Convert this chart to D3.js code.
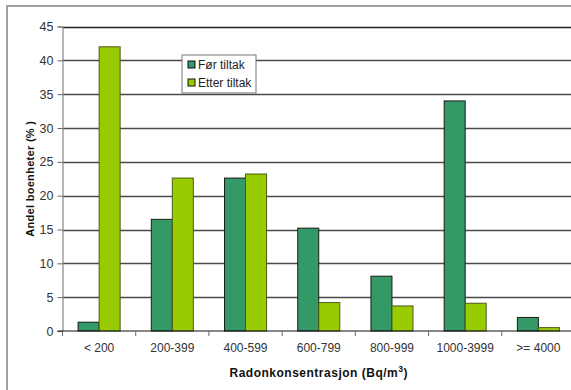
<!DOCTYPE html>
<html>
<head>
<meta charset="utf-8">
<script src="https://cdn.jsdelivr.net/npm/d3@7"></script>
<style>
  html, body { margin: 0; padding: 0; background: #fff; }
  svg { display: block; font-family: Arial, "Liberation Sans", sans-serif; }
</style>
</head>
<body>
<svg id="chart" width="571" height="390"></svg>
<script>
// Radon concentration intervals (Bq/m3)
const categories = ["< 200", "200-399", "400-599", "600-799", "800-999", "1000-3999", ">= 4000"];
// Share of dwellings (%) before and after mitigation
const forTiltak   = [1.3, 16.5, 22.6, 15.2, 8.1, 34.0, 2.0];
const etterTiltak = [42.0, 22.6, 23.2, 4.2, 3.7, 4.1, 0.5];
const seriesNames = ["Før tiltak", "Etter tiltak"];
const yTicks = [0, 5, 10, 15, 20, 25, 30, 35, 40, 45];

const colors = ["#339966", "#99cc00"];
const strokes = ["#1a1a1a", "#4d5a1a"];

const svg = d3.select("#chart");
const W = 571, H = 390;

// outer chart frame
svg.append("rect")
  .attr("x", 7).attr("y", 6)
  .attr("width", W + 20).attr("height", H + 20)
  .attr("fill", "none").attr("stroke", "#a0a0a0").attr("stroke-width", 2);

const plot = { left: 62.5, right: 575, top: 26.5, bottom: 331 };

const x0 = d3.scaleBand()
  .domain(categories)
  .range([plot.left, plot.right])
  .paddingInner(0.426)
  .paddingOuter(0.213);

const x1 = d3.scaleBand()
  .domain(seriesNames)
  .range([0, x0.bandwidth()]);

const y = d3.scaleLinear().domain([0, 45]).range([plot.bottom, plot.top]);

// horizontal gridlines
svg.append("g")
  .selectAll("line")
  .data(yTicks.filter(d => d > 0))
  .join("line")
  .attr("x1", plot.left).attr("x2", plot.right)
  .attr("y1", d => Math.round(y(d)) + 0.5).attr("y2", d => Math.round(y(d)) + 0.5)
  .attr("stroke", d => d === 45 ? "#222" : "#4a4a4a")
  .attr("stroke-width", 1.3);

// bars
const data = categories.map((c, i) => ({ cat: c, vals: [forTiltak[i], etterTiltak[i]] }));
const groups = svg.append("g")
  .selectAll("g")
  .data(data)
  .join("g")
  .attr("transform", d => `translate(${x0(d.cat)},0)`);

groups.selectAll("rect")
  .data(d => d.vals.map((v, j) => ({ v, j })))
  .join("rect")
  .attr("x", d => x1(seriesNames[d.j]))
  .attr("y", d => y(d.v))
  .attr("width", x1.bandwidth())
  .attr("height", d => y(0) - y(d.v))
  .attr("fill", d => colors[d.j])
  .attr("stroke", d => strokes[d.j])
  .attr("stroke-width", 1);

// y axis
const yAxis = d3.axisLeft(y).tickValues(yTicks).tickSize(5).tickPadding(4);
const gy = svg.append("g").attr("transform", `translate(${plot.left},0)`).call(yAxis);
gy.select(".domain").attr("stroke", "#888").attr("stroke-width", 1.2);
gy.selectAll(".tick line").attr("stroke", "#666");
gy.selectAll(".tick text").attr("fill", "#333").attr("font-size", 12.5)
  .attr("font-family", "Arial, 'Liberation Sans', sans-serif");

// x axis baseline with ticks at category boundaries
svg.append("line")
  .attr("x1", plot.left - 5).attr("x2", plot.right)
  .attr("y1", plot.bottom).attr("y2", plot.bottom)
  .attr("stroke", "#111").attr("stroke-width", 1.2);

const step = x0.step();
svg.append("g")
  .selectAll("line")
  .data(d3.range(categories.length + 1))
  .join("line")
  .attr("x1", i => plot.left + i * step).attr("x2", i => plot.left + i * step)
  .attr("y1", plot.bottom).attr("y2", plot.bottom + 5)
  .attr("stroke", "#666").attr("stroke-width", 1);

svg.append("g")
  .selectAll("text")
  .data(categories)
  .join("text")
  .attr("x", d => x0(d) + x0.bandwidth() / 2)
  .attr("y", 352)
  .attr("text-anchor", "middle")
  .attr("font-size", 12)
  .attr("fill", "#333")
  .text(d => d);

// axis titles
const xt = svg.append("text")
  .attr("x", (plot.left + plot.right) / 2)
  .attr("y", 377)
  .attr("text-anchor", "middle")
  .attr("font-size", 12)
  .attr("font-weight", "bold")
  .attr("letter-spacing", 0.5)
  .attr("fill", "#111");
xt.append("tspan").text("Radonkonsentrasjon (Bq/m");
xt.append("tspan").attr("font-size", 8.5).attr("dy", -5).text("3");
xt.append("tspan").attr("dy", 5).text(")");

svg.append("text")
  .attr("transform", `translate(34,${(plot.top + plot.bottom) / 2}) rotate(-90)`)
  .attr("text-anchor", "middle")
  .attr("font-size", 11)
  .attr("font-weight", "bold")
  .attr("letter-spacing", 0.3)
  .attr("fill", "#111")
  .text("Andel boenheter (% )");

// legend
const lg = svg.append("g").attr("transform", "translate(182,55)");
lg.append("rect")
  .attr("width", 74).attr("height", 38)
  .attr("fill", "#fff").attr("stroke", "#777").attr("stroke-width", 1);
seriesNames.forEach((name, i) => {
  const row = lg.append("g").attr("transform", `translate(6,${10 + i * 18})`);
  row.append("rect")
    .attr("x", 0).attr("y", -4)
    .attr("width", 7).attr("height", 7)
    .attr("fill", colors[i]).attr("stroke", "#111").attr("stroke-width", 1);
  row.append("text")
    .attr("x", 10).attr("y", 4)
    .attr("font-size", 12)
    .attr("fill", "#222")
    .text(name);
});
</script>
</body>
</html>
